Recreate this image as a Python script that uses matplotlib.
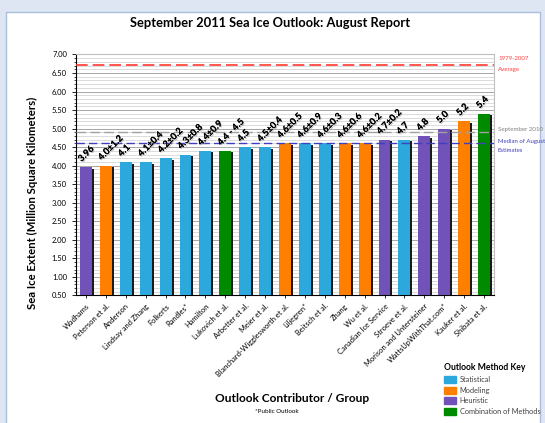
import matplotlib
matplotlib.use("Agg")
import matplotlib.pyplot as plt
import matplotlib.patches as mpatches
import matplotlib.patheffects as pe
import matplotlib.ticker as mticker
import numpy as np

plt.rcParams["font.family"] = ["Lato", "DejaVu Sans"]

# ── data ────────────────────────────────────────────────────────────────
contributors = [
    "Wadhams", "Peterson et al.", "Anderson", "Lindsay and Zhang", "Folkerts",
    "Randles*", "Hamilton", "Lukovich et al.", "Arbetter et al.", "Meier et al.",
    "Blanchard-Wigglesworth et al.", "Liljegren*", "Beitsch et al.", "Zhang",
    "Wu et al.", "Canadian Ice Service", "Stroeve et al.",
    "Morison and Untersteiner", "WattsUpWithThat.com*", "Kauker et al.",
    "Shibata et al.",
]
values = [3.96, 4.0, 4.1, 4.1, 4.2, 4.3, 4.4, 4.4, 4.5, 4.5, 4.6, 4.6, 4.6,
          4.6, 4.6, 4.7, 4.7, 4.8, 5.0, 5.2, 5.4]
value_labels = ["3.96", "4.0±1.2", "4.1", "4.1±0.4", "4.2±0.2", "4.3±0.8",
                "4.4±0.9", "4.4 - 4.5", "4.5", "4.5±0.4", "4.6±0.5", "4.6±0.9",
                "4.6±0.3", "4.6±0.6", "4.6±0.2", "4.7±0.2", "4.7", "4.8",
                "5.0", "5.2", "5.4"]
methods = ["H", "M", "S", "S", "S", "S", "S", "C", "S", "S", "M", "S", "S",
           "M", "M", "H", "S", "H", "H", "M", "C"]

avg_1979_2007 = 6.72
sept_2010 = 4.92
median_aug = 4.62

METHOD_COLORS = {"S": "#2CA8DC", "M": "#FF7F00", "H": "#7052B8", "C": "#008A00"}
METHOD_NAMES = [("S", "Statistical"), ("M", "Modeling"), ("H", "Heuristic"),
                ("C", "Combination of Methods")]

# ── figure / background ─────────────────────────────────────────────────
fig = plt.figure(figsize=(5.45, 4.23), dpi=100, facecolor="#DDE6F2")
panel = mpatches.Rectangle((6 / 545, -0.01), 534 / 545, 1.0 - 8 / 423,
                           transform=fig.transFigure, facecolor="white",
                           edgecolor="#A9BFDC", lw=1.0, zorder=-5)
fig.patches.append(panel)

ax = fig.add_axes([76 / 545, 1 - 295.5 / 423, 418 / 545, 241 / 423])
ax.set_zorder(2)
ax.set_facecolor("white")

x = np.arange(len(values))
bar_w = 0.6
# bar shadows
ax.bar(x + 0.1, np.array(values) - 0.54, width=bar_w, bottom=0.5,
       color="#1A1A1A", zorder=2)
ax.bar(x, np.array(values) - 0.5, width=bar_w, bottom=0.5,
       color=[METHOD_COLORS[m] for m in methods], zorder=3)

shadow = [pe.withSimplePatchShadow(offset=(0.8, -0.8), shadow_rgbFace="#999999",
                                   alpha=0.6), pe.Normal()]
for xi, v, lab in zip(x, values, value_labels):
    ax.text(xi - 0.15, v + 0.1, lab, rotation=45, rotation_mode="anchor",
            ha="left", va="bottom", fontsize=6.6, fontweight="bold",
            color="black", zorder=5, path_effects=shadow)

# reference lines
ax.axhline(avg_1979_2007, color="#FF3B30", lw=1.2, dashes=(7, 3), zorder=4)
ax.axhline(sept_2010, color="#A0A0A0", lw=1.0, dashes=(7, 3), zorder=4)
ax.axhline(median_aug, color="#3F3FC0", lw=1.0, dashes=(6, 3), zorder=4)

ax.set_xlim(-0.5, len(values) - 0.5)
ax.set_ylim(0.5, 7.0)
ax.yaxis.set_major_locator(mticker.MultipleLocator(0.5))
ax.yaxis.set_minor_locator(mticker.MultipleLocator(0.1))
ax.yaxis.set_major_formatter(mticker.FormatStrFormatter("%.2f"))
ax.grid(axis="y", which="major", color="#A6A6A6", lw=0.7, zorder=1)
ax.grid(axis="y", which="minor", color="#D6D6D6", lw=0.6, zorder=1)
ax.set_axisbelow(True)
ax.tick_params(axis="y", which="major", labelsize=5.5, length=3, width=0.6)
ax.tick_params(axis="y", which="minor", length=1.5, width=0.5)

ax.set_xticks(x)
ax.set_xticklabels(contributors, rotation=45, ha="right",
                   rotation_mode="anchor", fontsize=5.4)
ax.tick_params(axis="x", length=2, width=0.6, pad=3)

for side in ("top", "right"):
    ax.spines[side].set_color("#BFBFBF")
    ax.spines[side].set_linewidth(0.8)
for side in ("left", "bottom"):
    ax.spines[side].set_color("black")
    ax.spines[side].set_linewidth(0.8)

# ── text ────────────────────────────────────────────────────────────────
fig.text(270 / 545, 1 - 23 / 423, "September 2011 Sea Ice Outlook: August Report",
         ha="center", va="center", fontsize=9.3, fontweight="bold")
fig.text(32 / 545, 1 - 203 / 423, "Sea Ice Extent (Million Square Kilometers)",
         rotation=90, ha="center", va="center", fontsize=8.2,
         fontweight="bold")
fig.text(292 / 545, 1 - 398 / 423, "Outlook Contributor / Group",
         ha="center", va="center", fontsize=8.6, fontweight="bold")
fig.text(277 / 545, 1 - 411 / 423, "*Public Outlook", ha="center",
         va="center", fontsize=4.5)

lx = 498 / 545
fig.text(lx, 1 - 59 / 423, "1979-2007", color="#FF4040", fontsize=4.4,
         va="center")
fig.text(lx, 1 - 69 / 423, "Average", color="#FF4040", fontsize=4.4,
         va="center")
fig.text(lx, 1 - 130 / 423, "September 2010", color="#808080",
         fontsize=4.4, va="center")
fig.text(lx, 1 - 141 / 423, "Median of August", color="#3F3FC0",
         fontsize=4.3, va="center")
fig.text(lx, 1 - 150 / 423, "Estimates", color="#3F3FC0",
         fontsize=4.3, va="center")

handles = [mpatches.Patch(color=METHOD_COLORS[k]) for k, _ in METHOD_NAMES]
labels = [n for _, n in METHOD_NAMES]
leg = fig.legend(handles, labels, loc="upper left",
                 bbox_to_anchor=(439 / 545, 1 - 358 / 423), frameon=False,
                 fontsize=5.3, title="Outlook Method Key",
                 title_fontproperties={"weight": "bold", "size": 6.2},
                 alignment="left", handlelength=1.6, handleheight=1.1,
                 labelspacing=0.5, handletextpad=0.5, borderpad=0.2)
for t in leg.get_texts():
    t.set_color("#404040")

fig.savefig("out.png", dpi=100, facecolor=fig.get_facecolor())
